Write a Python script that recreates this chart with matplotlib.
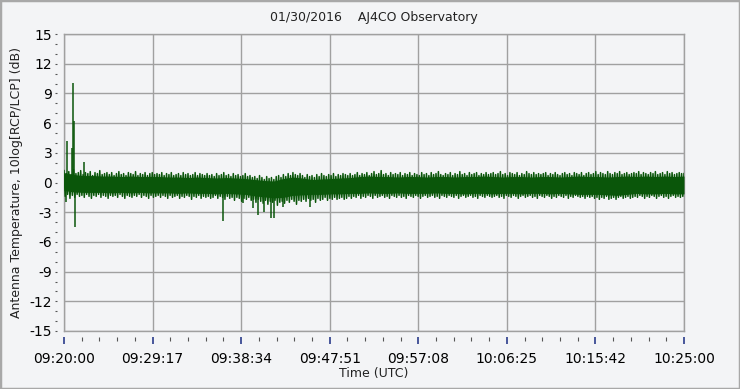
import matplotlib
matplotlib.use("Agg")
import matplotlib.pyplot as plt
from matplotlib.patches import Rectangle
import numpy as np

# ---- data (seconds after 09:20:00, dB) ----
title = "01/30/2016    AJ4CO Observatory"
x_tick_labels = ["09:20:00", "09:29:17", "09:38:34", "09:47:51",
                 "09:57:08", "10:06:25", "10:15:42", "10:25:00"]
y_ticks = [15, 12, 9, 6, 3, 0, -3, -6, -9, -12, -15]

# solid core of the band, one value per minute
core_hi = [1.0, 0.8, 0.7, 0.7, 0.65, 0.65, 0.6, 0.65, 0.6, 0.6,
           0.6, 0.55, 0.55, 0.5, 0.55, 0.5, 0.45, 0.5, 0.45, 0.4,
           0.3, 0.2, 0.15, 0.4, 0.55, 0.45, 0.3, 0.35, 0.4, 0.45,
           0.5, 0.6, 0.65, 0.6, 0.6, 0.55, 0.6, 0.6, 0.55, 0.6,
           0.6, 0.55, 0.6, 0.6, 0.65, 0.6, 0.55, 0.6, 0.6, 0.55,
           0.6, 0.6, 0.55, 0.6, 0.65, 0.6, 0.6, 0.55, 0.6, 0.65,
           0.6, 0.65, 0.6, 0.65, 0.6, 0.65]
core_lo = [-0.8, -0.95, -1.0, -1.0, -1.0, -1.05, -1.0, -1.05, -1.0, -1.05,
           -1.05, -1.05, -1.1, -1.05, -1.1, -1.1, -1.15, -1.1, -1.15, -1.2,
           -1.35, -1.45, -1.55, -1.5, -1.3, -1.25, -1.2, -1.2, -1.15, -1.15,
           -1.1, -1.1, -1.05, -1.1, -1.1, -1.05, -1.1, -1.1, -1.1, -1.05,
           -1.1, -1.1, -1.15, -1.1, -1.1, -1.15, -1.1, -1.1, -1.15, -1.1,
           -1.1, -1.15, -1.1, -1.15, -1.2, -1.2, -1.2, -1.25, -1.3, -1.2,
           -1.1, -1.15, -1.15, -1.1, -1.15, -1.15]

# noise peaks: upper every 15 s (from 0 s), lower every 15 s (from 7.5 s)
peak_hi = [
    1.2, 0.9, 1.1, 0.8, 1.3, 0.9, 1.0, 1.2, 0.8, 1.0, 0.9, 1.1, 0.7, 1.0, 0.9, 1.2, 0.8, 0.9, 1.0, 0.8,
    1.0, 0.7, 0.9, 1.1, 0.8, 0.9, 0.7, 1.0, 0.9, 0.8, 1.1, 0.7, 0.9, 0.8, 1.0, 0.7, 0.9, 1.0, 0.8, 0.9,
    0.8, 1.0, 0.7, 0.9, 0.8, 1.0, 0.7, 0.8, 0.9, 0.7, 1.0, 0.8, 0.9, 0.7, 0.8, 1.0, 0.7, 0.9, 0.8, 0.7,
    0.9, 0.7, 0.8, 0.6, 0.9, 0.7, 0.8, 1.0, 0.7, 0.8, 0.6, 0.9, 0.7, 0.8, 0.6, 0.7, 0.9, 0.6, 0.7, 0.5,
    0.6, 0.4, 0.7, 0.5, 0.3, 0.6, 0.4, 0.5, 0.3, 0.6, 0.7, 0.5, 0.8, 0.6, 0.9, 0.7, 1.0, 0.8, 0.7, 0.9,
    0.7, 0.5, 0.8, 0.6, 0.7, 0.5, 0.8, 0.6, 0.9, 0.7, 0.6, 0.8, 0.7, 0.9, 0.6, 0.8, 0.7, 0.9, 0.8, 0.7,
    0.9, 0.7, 0.8, 1.0, 0.7, 0.9, 0.8, 1.0, 0.7, 0.9, 1.1, 0.8, 0.9, 1.2, 0.8, 0.9, 0.7, 1.0, 0.8, 0.9,
    0.8, 1.0, 0.7, 0.9, 0.8, 1.0, 0.7, 0.9, 0.8, 0.7, 1.0, 0.8, 0.9, 0.7, 1.0, 0.8, 0.9, 1.1, 0.8, 0.7,
    0.9, 0.8, 1.0, 0.7, 0.9, 0.8, 1.1, 0.8, 0.9, 0.7, 1.0, 0.8, 0.9, 1.0, 0.7, 0.9, 0.8, 1.0, 0.8, 0.9,
    1.0, 0.8, 0.9, 1.1, 0.8, 0.9, 0.7, 1.0, 0.9, 0.8, 1.0, 0.7, 0.9, 0.8, 1.1, 0.9, 0.8, 1.0, 0.8, 0.9,
    0.8, 0.9, 1.0, 0.7, 0.9, 0.8, 1.0, 0.8, 0.7, 0.9, 1.0, 0.8, 0.9, 0.7, 1.0, 0.9, 0.8, 1.0, 0.7, 0.9,
    1.0, 0.8, 0.9, 1.1, 0.8, 1.0, 0.9, 0.8, 1.1, 0.9, 0.8, 1.0, 0.9, 1.1, 0.8, 0.9, 1.0, 0.8, 0.9, 1.0,
    0.9, 1.1, 0.8, 1.0, 0.9, 0.8, 1.0, 0.9, 1.1, 0.8, 0.9, 1.0, 0.8, 1.1, 0.9, 1.0, 0.8, 0.9, 1.0, 0.9,
    0.9]
peak_lo = [
    -1.4, -1.2, -1.6, -1.3, -1.5, -1.2, -1.4, -1.3, -1.5, -1.2, -1.4, -1.6, -1.3, -1.4, -1.2, -1.5, -1.3, -1.4, -1.6, -1.3,
    -1.4, -1.3, -1.5, -1.2, -1.4, -1.6, -1.3, -1.4, -1.5, -1.3, -1.4, -1.2, -1.5, -1.3, -1.4, -1.6, -1.3, -1.5, -1.4, -1.3,
    -1.5, -1.3, -1.4, -1.6, -1.3, -1.5, -1.4, -1.3, -1.6, -1.4, -1.5, -1.3, -1.4, -1.7, -1.4, -1.5, -1.3, -1.6, -1.4, -1.5,
    -1.4, -1.6, -1.5, -1.3, -1.6, -1.4, -1.5, -1.7, -1.4, -1.6, -1.5, -1.8, -1.5, -1.6, -1.9, -1.6, -1.7, -1.5, -1.8, -1.7,
    -2.0, -1.7, -1.9, -2.1, -1.8, -2.2, -1.9, -2.0, -1.8, -2.3, -2.0, -1.9, -2.1, -1.8, -2.0, -1.7, -1.9, -2.2, -1.8, -1.9,
    -1.7, -1.9, -1.6, -1.8, -1.7, -2.0, -1.6, -1.8, -1.7, -1.5, -1.8, -1.6, -1.7, -1.5, -1.7, -1.6, -1.5, -1.7, -1.6, -1.4,
    -1.6, -1.4, -1.5, -1.3, -1.6, -1.4, -1.5, -1.3, -1.4, -1.6, -1.3, -1.5, -1.4, -1.3, -1.5, -1.4, -1.6, -1.3, -1.4, -1.5,
    -1.3, -1.5, -1.4, -1.6, -1.3, -1.4, -1.5, -1.3, -1.4, -1.6, -1.4, -1.3, -1.5, -1.4, -1.3, -1.5, -1.4, -1.6, -1.3, -1.4,
    -1.5, -1.3, -1.4, -1.5, -1.3, -1.6, -1.4, -1.3, -1.5, -1.4, -1.3, -1.5, -1.4, -1.6, -1.3, -1.4, -1.5, -1.3, -1.4, -1.5,
    -1.4, -1.3, -1.5, -1.4, -1.6, -1.3, -1.4, -1.5, -1.3, -1.4, -1.6, -1.4, -1.3, -1.5, -1.4, -1.3, -1.5, -1.4, -1.6, -1.3,
    -1.4, -1.5, -1.3, -1.4, -1.6, -1.4, -1.5, -1.3, -1.4, -1.5, -1.3, -1.6, -1.4, -1.5, -1.3, -1.4, -1.5, -1.4, -1.6, -1.4,
    -1.5, -1.4, -1.6, -1.5, -1.7, -1.5, -1.6, -1.4, -1.7, -1.6, -1.5, -1.7, -1.5, -1.4, -1.6, -1.5, -1.4, -1.6, -1.5, -1.4,
    -1.5, -1.3, -1.4, -1.6, -1.4, -1.5, -1.3, -1.4, -1.6, -1.4, -1.3, -1.5, -1.4, -1.6, -1.4, -1.3, -1.5, -1.4, -1.5, -1.4]

# isolated spikes (time s, value dB)
spike_t = [13, 21, 52, 58, 62, 71, 128, 1002, 1126, 1189,
           1219, 1261, 1303, 1318, 1375, 1547]
spike_v = [-2.0, 4.2, 3.5, 10.1, 6.2, -4.5, 2.1, -3.9, -2.1, -2.6,
           -3.3, -3.0, -3.6, -3.6, -2.5, -2.5]

# ---- styling ----
BG = "#f3f4f6"
GRID = "#a0a0a0"
GREEN = "#0a560a"
TICK_BLUE = "#2a3c8a"
T_END = 3900

plt.rcParams["font.family"] = "DejaVu Sans"
plt.rcParams["axes.unicode_minus"] = False

fig = plt.figure(figsize=(7.4, 3.89), dpi=100, facecolor=BG)
ax = fig.add_axes([64 / 740, 58 / 389, 620 / 740, 297 / 389], facecolor=BG)

# band core
t_min = np.arange(len(core_hi)) * 60
ax.fill_between(t_min, core_lo, core_hi, color=GREEN, lw=0, zorder=3)

# zigzag noise between peaks
t_hi = np.arange(len(peak_hi)) * 15.0
t_lo = np.arange(len(peak_lo)) * 15.0 + 7.5
zz_t = np.empty(len(t_hi) + len(t_lo))
zz_v = np.empty_like(zz_t)
zz_t[0::2], zz_v[0::2] = t_hi, peak_hi
zz_t[1::2], zz_v[1::2] = t_lo, peak_lo
ax.plot(zz_t, zz_v, color=GREEN, lw=1.1, zorder=3)

# spikes
ax.vlines(spike_t, 0, spike_v, color=GREEN, lw=1.1, zorder=3)

ax.set_xlim(0, T_END)
ax.set_ylim(-15, 15)

major_x = np.linspace(0, T_END, len(x_tick_labels))
ax.set_xticks(major_x)
ax.set_xticklabels(x_tick_labels, fontsize=9, color="#222222")
ax.set_xticks(np.linspace(0, T_END, 5 * (len(x_tick_labels) - 1) + 1), minor=True)
ax.set_yticks(y_ticks)
ax.set_yticklabels([str(v) for v in y_ticks], fontsize=9, color="#222222")
ax.set_yticks(np.arange(-15, 16, 1), minor=True)

ax.grid(True, which="major", color=GRID, lw=1.0, zorder=1)
for s in ax.spines.values():
    s.set_visible(False)
ax.spines["bottom"].set_position(("outward", 4))
ax.spines["left"].set_position(("outward", 5))
ax.axhline(-15, color=GRID, lw=1.0, zorder=2, clip_on=False)
ax.axhline(15, color=GRID, lw=1.0, zorder=2, clip_on=False)
ax.axvline(0, color=GRID, lw=1.0, zorder=2, clip_on=False)
ax.axvline(T_END, color=GRID, lw=1.0, zorder=2, clip_on=False)

ax.tick_params(axis="x", which="major", length=5, width=1.2, color=TICK_BLUE, pad=6)
ax.tick_params(axis="x", which="minor", length=3, width=0.8, color="#555555")
ax.tick_params(axis="y", which="both", length=1.5, width=0.8, color="#555555", pad=2)

ax.set_title(title, fontsize=9, color="#222222", pad=9)
ax.set_xlabel("Time (UTC)", fontsize=9, color="#222222", labelpad=1)
ax.set_ylabel("Antenna Temperature, 10log[RCP/LCP] (dB)", fontsize=9,
              color="#222222", labelpad=5)

# window frame
fig.patches.append(Rectangle((0, 0), 1, 1, transform=fig.transFigure,
                             fill=False, edgecolor="#a8a8a8", lw=2.5))

fig.savefig("out.png", dpi=100, facecolor=BG)
